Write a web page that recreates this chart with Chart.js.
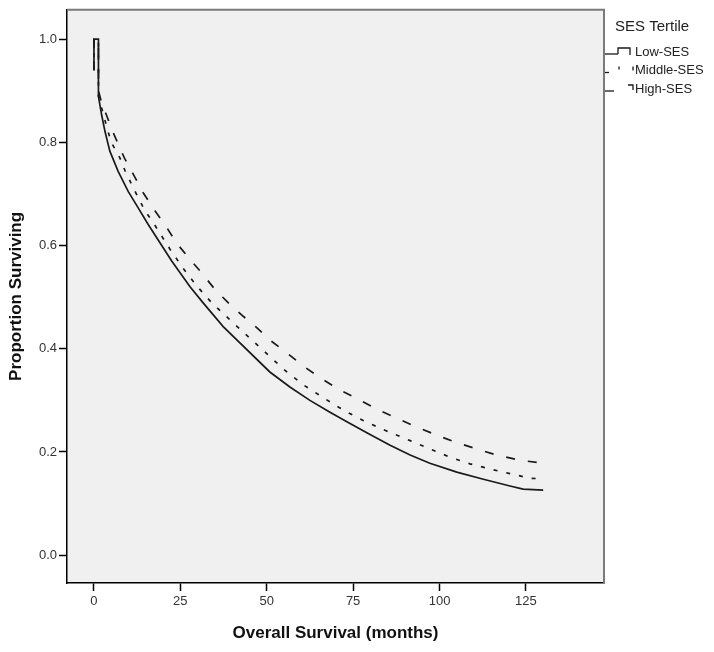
<!DOCTYPE html>
<html>
<head>
<meta charset="utf-8">
<script src="https://cdn.jsdelivr.net/npm/chart.js@4.4.1/dist/chart.umd.min.js"></script>
<style>
  body { margin: 0; background: #fff; }
  canvas { display: block; }
</style>
</head>
<body>
<canvas id="km" width="714" height="652"></canvas>
<script>
// Kaplan-Meier curves (months, proportion surviving)
const lowMonths = [0, 0, 1.3, 1.3, 2.2, 3.2, 4.6, 7.0, 9.9, 12.8, 15.7, 22.5, 27.8, 31.6, 37.4, 50.9, 56.7, 62.5, 68.3, 74.1, 79.9, 85.7, 91.5, 97.2, 105, 112.7, 120.4, 124.2, 130];
const lowSurv = [0.94, 1.0, 1.0, 0.889, 0.854, 0.821, 0.783, 0.744, 0.705, 0.673, 0.641, 0.570, 0.520, 0.489, 0.443, 0.355, 0.326, 0.300, 0.277, 0.255, 0.234, 0.213, 0.194, 0.178, 0.161, 0.147, 0.134, 0.128, 0.126];

const midMonths = [0, 0, 1.3, 1.3, 2.5, 3.7, 5.0, 7.5, 9.0, 11.9, 14.8, 17.2, 22.0, 25.8, 29.7, 34.1, 38.9, 40.8, 50.9, 55.3, 60.6, 66.4, 72.2, 77.9, 84.2, 91.5, 97.2, 103, 108.8, 114.6, 120.4, 126.2, 130];
const midSurv = [0.94, 1.0, 1.0, 0.89, 0.86, 0.83, 0.80, 0.77, 0.745, 0.705, 0.667, 0.644, 0.593, 0.556, 0.522, 0.489, 0.459, 0.447, 0.385, 0.358, 0.330, 0.305, 0.281, 0.261, 0.242, 0.222, 0.206, 0.190, 0.177, 0.167, 0.158, 0.149, 0.148];

const highMonths = [0, 0, 1.3, 1.3, 2.5, 3.5, 5.5, 8.8, 11.4, 14.3, 17.7, 20.5, 23.9, 27.8, 31.2, 35.0, 38.9, 43.2, 47.1, 50.9, 56.2, 61.1, 65.9, 70.7, 76.5, 81.8, 87.1, 92.4, 98.7, 104.5, 110.7, 116.5, 123.3, 130];
const highSurv = [0.94, 1.0, 1.0, 0.90, 0.87, 0.855, 0.82, 0.77, 0.738, 0.702, 0.667, 0.641, 0.605, 0.573, 0.547, 0.515, 0.489, 0.463, 0.441, 0.417, 0.390, 0.364, 0.342, 0.322, 0.302, 0.283, 0.267, 0.251, 0.234, 0.219, 0.206, 0.194, 0.184, 0.178];

const seriesNames = ['Low-SES', 'Middle-SES', 'High-SES'];
const legendTitle = 'SES Tertile';
const xTicks = [0, 25, 50, 75, 100, 125];
const yTicks = [0.0, 0.2, 0.4, 0.6, 0.8, 1.0];

const FONT = "'Liberation Sans', Arial, sans-serif";
const INK = '#1a1a1a';
const dashes = [[], [4, 9], [9, 13]];

const toPoints = (xs, ys) => xs.map((x, i) => ({ x: x, y: ys[i] }));

// grey plot panel with the thin top / right frame
const plotPanel = {
    id: 'plotPanel',
    beforeDraw(chart) {
        const { ctx, chartArea: a } = chart;
        ctx.save();
        ctx.fillStyle = '#f0f0f0';
        ctx.fillRect(a.left, a.top, a.width, a.height);
        ctx.restore();
    },
    afterDraw(chart) {
        const { ctx, chartArea: a } = chart;
        ctx.save();
        ctx.strokeStyle = '#7a7a7a';
        ctx.lineWidth = 2;
        ctx.beginPath();
        ctx.moveTo(a.left, a.top);
        ctx.lineTo(a.right, a.top);
        ctx.lineTo(a.right, a.bottom);
        ctx.stroke();
        ctx.restore();
    }
};

// SPSS-like legend to the right of the panel
const sideLegend = {
    id: 'sideLegend',
    afterDraw(chart) {
        const ctx = chart.ctx;
        const x0 = chart.chartArea.right;
        ctx.save();
        ctx.fillStyle = '#222';
        ctx.textBaseline = 'middle';
        ctx.font = '15px ' + FONT;
        ctx.fillText(legendTitle, x0 + 11, 27);
        ctx.font = '13px ' + FONT;
        chart.data.datasets.forEach((ds, i) => {
            const y = 52 + i * 18.5;
            ctx.strokeStyle = INK;
            ctx.lineWidth = 1.3;
            ctx.setLineDash(ds.borderDash || []);
            ctx.beginPath();
            ctx.moveTo(x0 + 1, y + 2);
            ctx.lineTo(x0 + 14, y + 2);
            ctx.stroke();
            ctx.setLineDash([]);
            // tiny step glyph
            ctx.beginPath();
            if (i === 0) {
                ctx.moveTo(x0 + 14, y + 2);
                ctx.lineTo(x0 + 14, y - 4);
                ctx.lineTo(x0 + 26, y - 4);
                ctx.lineTo(x0 + 26, y + 3);
            } else if (i === 1) {
                ctx.moveTo(x0 + 15, y - 4);
                ctx.lineTo(x0 + 15, y - 1);
                ctx.moveTo(x0 + 29, y - 4);
                ctx.lineTo(x0 + 29, y);
            } else {
                ctx.moveTo(x0 + 24, y - 4);
                ctx.lineTo(x0 + 29, y - 4);
                ctx.lineTo(x0 + 29, y + 1);
            }
            ctx.stroke();
            ctx.fillText(ds.label, x0 + 31, y);
        });
        ctx.restore();
    }
};

const axisTicks = { color: '#333', font: { family: FONT, size: 13 } };

new Chart(document.getElementById('km'), {
    type: 'line',
    data: {
        datasets: [
            { label: seriesNames[0], data: toPoints(lowMonths, lowSurv), borderDash: dashes[0] },
            { label: seriesNames[1], data: toPoints(midMonths, midSurv), borderDash: dashes[1] },
            { label: seriesNames[2], data: toPoints(highMonths, highSurv), borderDash: dashes[2] }
        ].map(ds => Object.assign(ds, {
            borderColor: INK,
            borderWidth: 1.7,
            pointRadius: 0,
            tension: 0,
            fill: false
        }))
    },
    options: {
        responsive: false,
        animation: false,
        layout: { padding: { top: 8, right: 110, left: 0, bottom: 0 } },
        plugins: {
            legend: { display: false },
            tooltip: { enabled: false }
        },
        scales: {
            x: {
                type: 'linear',
                min: -7.8,
                max: 147.6,
                afterBuildTicks: s => { s.ticks = xTicks.map(v => ({ value: v })); },
                afterFit: s => { s.height = 69; },
                ticks: Object.assign({ padding: 3 }, axisTicks),
                grid: { drawOnChartArea: false, tickLength: 8, color: '#000', tickWidth: 1.5 },
                border: { color: '#000', width: 1.5 },
                title: {
                    display: true,
                    text: 'Overall Survival (months)',
                    color: '#111',
                    font: { family: FONT, size: 17, weight: 'bold' },
                    padding: { top: 0, bottom: 8 }
                }
            },
            y: {
                min: -0.054,
                max: 1.057,
                afterBuildTicks: s => { s.ticks = yTicks.map(v => ({ value: v })); },
                afterFit: s => { s.width = 67; },
                ticks: Object.assign({ padding: 2, callback: v => v.toFixed(1) }, axisTicks),
                grid: { drawOnChartArea: false, tickLength: 8, color: '#000', tickWidth: 1.5 },
                border: { color: '#000', width: 1.5 },
                title: {
                    display: true,
                    text: 'Proportion Surviving',
                    color: '#111',
                    font: { family: FONT, size: 17, weight: 'bold' },
                    padding: { top: 6, bottom: 0 }
                }
            }
        }
    },
    plugins: [plotPanel, sideLegend]
});
</script>
</body>
</html>
